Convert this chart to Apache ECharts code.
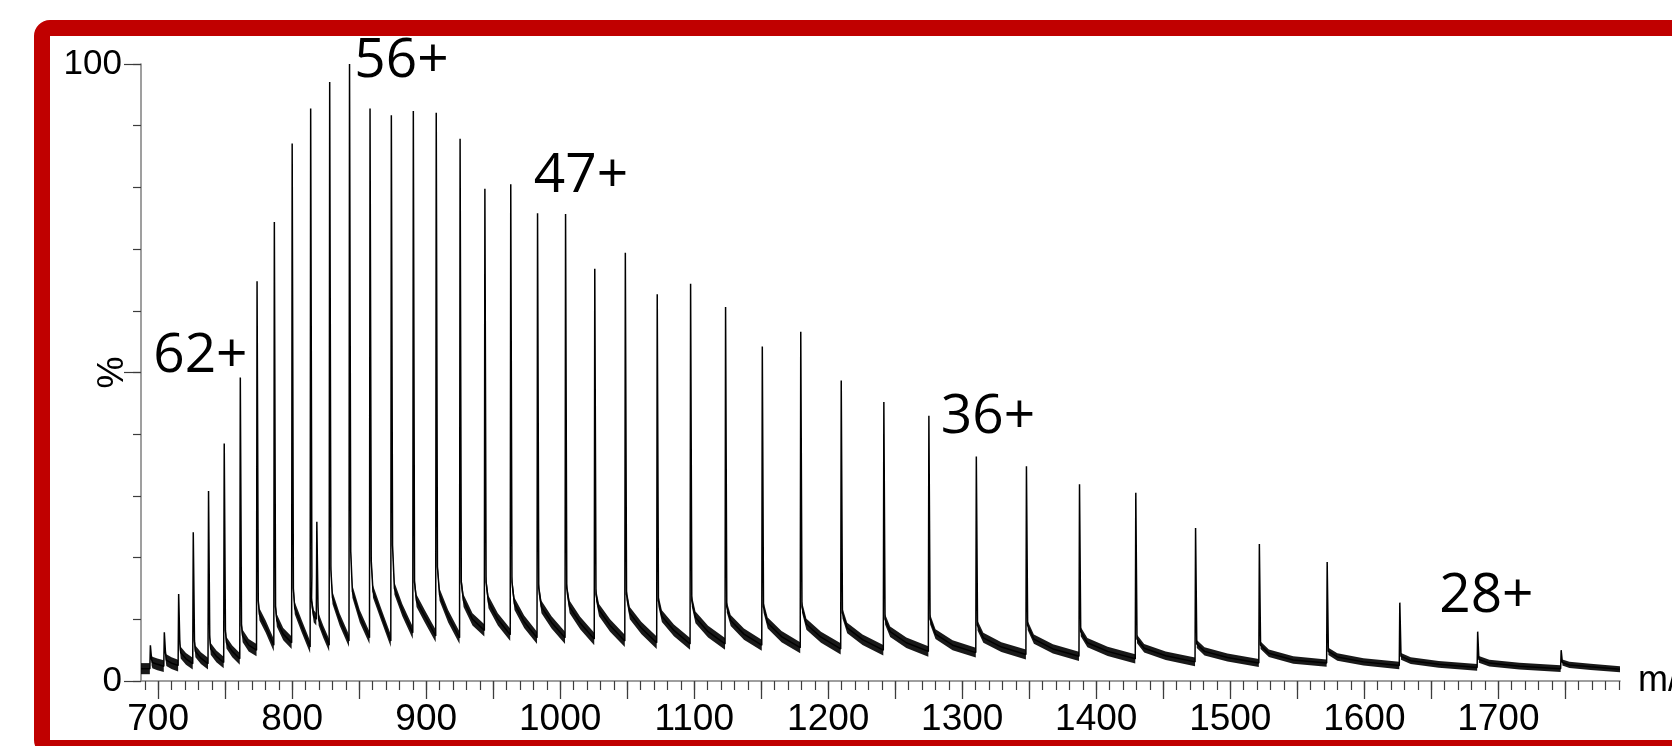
<!DOCTYPE html>
<html>
<head>
<meta charset="utf-8">
<title>ESI mass spectrum</title>
<script src="https://cdn.jsdelivr.net/npm/echarts@6/dist/echarts.min.js"></script>
<style>
  html, body { margin: 0; padding: 0; background: #ffffff; overflow: hidden; }
  #chart { width: 1672px; height: 746px; }
</style>
</head>
<body>
<div id="chart"></div>
<script>
// ---- spectrum data (m/z, relative intensity %) ----
// charge-state envelope, 68+ down to 27+, plus one minor species near m/z 818
const peakMz = [
  694.2, 704.6, 715.3, 726.2, 737.6, 749.3, 761.3, 773.8, 786.7, 800.0,
  813.8, 818.4, 828.0, 842.8, 858.1, 874.0, 890.4, 907.5, 925.3, 943.8,
  963.1, 983.1, 1004.0, 1025.8, 1048.6, 1072.4, 1097.3, 1123.4, 1150.8, 1179.5,
  1209.7, 1241.5, 1275.1, 1310.5, 1347.9, 1387.5, 1429.5, 1474.1, 1521.7, 1572.3,
  1626.5, 1684.6, 1746.9
];
// apex height of each peak
const peakPct = [
  5.8, 7.9, 14.1, 24.1, 30.8, 38.5, 49.2, 64.8, 74.4, 87.1,
  92.8, 25.8, 97.1, 100.0, 92.8, 91.7, 92.4, 92.1, 87.9, 79.8,
  80.5, 75.8, 75.7, 66.8, 69.4, 62.7, 64.4, 60.6, 54.2, 56.6,
  48.7, 45.2, 43.0, 36.4, 34.8, 31.9, 30.5, 24.8, 22.2, 19.3,
  12.7, 8.0, 5.0
];
// level right after the steep drop on the high-m/z side of each peak
const shoulderPct = [
  3.5, 4.5, 6.0, 6.5, 7.0, 8.2, 9.0, 13.0, 12.0, 15.0,
  17.0, 12.0, 18.0, 21.0, 19.5, 22.0, 16.0, 18.5, 16.0, 16.0,
  16.0, 15.0, 15.0, 14.0, 14.0, 13.0, 13.0, 12.0, 12.0, 12.0,
  11.0, 10.0, 10.0, 9.0, 9.0, 8.0, 6.8, 6.0, 5.8, 4.8,
  4.0, 3.5, 3.0
];
// early tail, shortly after the shoulder
const tailNearPct = [
  3.0, 3.4, 4.6, 4.8, 5.2, 6.2, 7.3, 10.8, 9.8, 11.8,
  13.0, 10.0, 13.5, 14.5, 14.5, 15.0, 13.0, 14.0, 13.0, 12.8,
  12.5, 12.0, 12.0, 11.5, 11.0, 10.5, 10.3, 9.8, 9.4, 9.2,
  8.6, 8.0, 7.6, 7.0, 6.8, 6.2, 5.3, 4.8, 4.5, 3.9,
  3.3, 2.9, 2.6
];
// late tail, about halfway to the next peak
const tailFarPct = [
  2.7, 2.9, 3.6, 3.7, 4.0, 4.8, 5.8, 8.8, 7.6, 9.0,
  10.5, 8.0, 10.0, 10.5, 11.0, 11.5, 10.5, 10.5, 10.0, 10.0,
  9.6, 9.5, 9.4, 9.0, 8.6, 8.2, 8.0, 7.6, 7.2, 7.1,
  6.7, 6.2, 5.8, 5.5, 5.2, 4.8, 4.1, 3.8, 3.4, 3.1,
  2.7, 2.4, 2.3
];
// baseline just before the next peak (last entry: level at the end of the scan)
const valleyPct = [
  2.4, 2.5, 2.8, 2.8, 3.0, 3.6, 5.0, 5.8, 6.2, 5.5,
  10.0, 5.8, 6.5, 7.0, 6.5, 7.8, 7.3, 7.0, 8.2, 7.5,
  7.0, 7.0, 6.8, 6.5, 6.2, 6.0, 6.0, 5.8, 5.4, 5.2,
  5.0, 4.8, 4.6, 4.3, 4.0, 3.6, 3.1, 2.9, 2.9, 2.5,
  2.2, 2.0, 1.9
];
// half-width of the noise band on each tail
const noisePct = [
  0.95, 0.95, 0.95, 0.95, 0.95, 0.95, 1.0, 1.0, 1.0, 1.0,
  1.0, 1.0, 1.0, 1.0, 1.0, 1.0, 1.0, 1.0, 1.0, 1.0,
  1.0, 1.0, 1.0, 1.0, 1.0, 0.95, 0.95, 0.9, 0.9, 0.9,
  0.85, 0.85, 0.8, 0.8, 0.75, 0.75, 0.7, 0.65, 0.6, 0.6,
  0.55, 0.55, 0.5
];
const startPct = 2.0;          // baseline at the low-m/z end of the scan
const startNoisePct = 0.9;

// charge-state annotations
const annText = ['62+', '56+', '47+', '36+', '28+'];
const annMz   = [731.5, 881.6, 1015.5, 1319.2, 1691.1];
const annPct  = [52.7, 100.4, 81.8, 42.7, 13.8];

// axis ticks
const xLabelValues = [700, 800, 900, 1000, 1100, 1200, 1300, 1400, 1500, 1600, 1700];
const xMajorTicks = [700, 750, 800, 850, 900, 950, 1000, 1050, 1100, 1150, 1200, 1250,
                     1300, 1350, 1400, 1450, 1500, 1550, 1600, 1650, 1700, 1750];
const yMajorTicks = [0, 50, 100];
const X_MIN = 687.2, X_MAX = 1790.8;

const xMinorTicks = [];
for (let v = 690; v <= 1790; v += 10) xMinorTicks.push(v);

// ---- build the trace ----
const n = peakMz.length;
function nextMz(i) { return i + 1 < n ? peakMz[i + 1] : X_MAX; }
function tailPoints(i) {
  const x0 = peakMz[i], x1 = nextMz(i), gap = x1 - x0;
  return [
    [x0 + 0.9, shoulderPct[i]],
    [x0 + gap * 0.14, tailNearPct[i]],
    [x0 + gap * 0.5, tailFarPct[i]],
    [x1 - (i + 1 < n ? 0.4 : 0), valleyPct[i]]
  ];
}
const trace = [[X_MIN, startPct], [peakMz[0] - 0.4, startPct]];
for (let i = 0; i < n; i++) {
  trace.push([peakMz[i], peakPct[i]]);
  tailPoints(i).forEach(p => trace.push(p));
}

const segData = [[X_MIN, -1]];
for (let i = 0; i < n; i++) segData.push([peakMz[i], i]);

const chart = echarts.init(document.getElementById('chart'), null, { renderer: 'canvas' });

const axisGray = '#7f7f7f';
const tickGray = '#3c3c3c';
const labelFont = 'Liberation Sans, Arial, sans-serif';

chart.setOption({
  animation: false,
  backgroundColor: '#ffffff',
  grid: { left: 141, right: 52, top: 64, bottom: 65, containLabel: false, outerBoundsMode: 'none' },
  xAxis: [
    {
      type: 'value', min: X_MIN, max: X_MAX,
      axisLine: { show: true, onZero: false, lineStyle: { color: axisGray, width: 1.5 } },
      axisTick: { show: true, customValues: xMajorTicks, length: 18, lineStyle: { color: tickGray, width: 1.3 } },
      axisLabel: { show: true, customValues: xLabelValues, margin: 20, fontSize: 37,
                   fontFamily: labelFont, color: '#000', formatter: v => String(v) },
      splitLine: { show: false },
      name: 'm/z', nameLocation: 'end', nameGap: 18, nameMoveOverlap: false,
      nameTextStyle: { fontSize: 36, fontFamily: labelFont, color: '#000', align: 'left', verticalAlign: 'middle' }
    },
    {
      type: 'value', min: X_MIN, max: X_MAX, position: 'bottom',
      axisLine: { show: false },
      axisTick: { show: true, customValues: xMinorTicks, length: 9, lineStyle: { color: tickGray, width: 1.2 } },
      axisLabel: { show: false },
      splitLine: { show: false }
    }
  ],
  yAxis: [
    {
      type: 'value', min: 0, max: 100, interval: 10,
      axisLine: { show: true, onZero: false, lineStyle: { color: axisGray, width: 1.5 } },
      axisTick: { show: true, length: 8, lineStyle: { color: tickGray, width: 1.2 } },
      axisLabel: { show: true, margin: 19, fontSize: 35, fontFamily: labelFont, color: '#000',
                   formatter: v => (v === 0 || v === 100) ? String(v) : '' },
      splitLine: { show: false },
      name: '%', nameLocation: 'middle', nameRotate: 90, nameGap: 10, nameMoveOverlap: false,
      nameTextStyle: { fontSize: 36, fontFamily: labelFont, color: '#000' }
    },
    {
      type: 'value', min: 0, max: 100, position: 'left',
      axisLine: { show: false },
      axisTick: { show: true, customValues: yMajorTicks, length: 17, lineStyle: { color: tickGray, width: 1.2 } },
      axisLabel: { show: false },
      splitLine: { show: false }
    }
  ],
  series: [
    {
      // noisy tails drawn as a band around the trace
      type: 'custom',
      coordinateSystem: 'cartesian2d',
      xAxisIndex: 0, yAxisIndex: 0,
      encode: { x: 0, y: 1 },
      clip: true,
      silent: true,
      data: segData,
      renderItem: function (params, api) {
        const i = api.value(1);
        let pts, half;
        if (i < 0) {
          pts = [[X_MIN, startPct], [peakMz[0] - 0.4, startPct]];
          half = startNoisePct;
        } else {
          pts = tailPoints(i);
          half = noisePct[i];
        }
        const upper = pts.map(p => api.coord([p[0], p[1] + half]));
        const lower = pts.slice().reverse().map(p => api.coord([p[0], Math.max(0.2, p[1] - half)]));
        return {
          type: 'polygon',
          shape: { points: upper.concat(lower) },
          style: { fill: '#000000', opacity: 0.9 }
        };
      },
      z: 2
    },
    {
      type: 'line',
      xAxisIndex: 0, yAxisIndex: 0,
      data: trace,
      showSymbol: false,
      symbol: 'none',
      lineStyle: { color: '#000000', width: 1.5 },
      clip: true,
      z: 3
    },
    {
      type: 'scatter',
      xAxisIndex: 0, yAxisIndex: 0,
      clip: false,
      symbolSize: 0,
      data: annText.map((t, i) => ({ name: t, value: [annMz[i], annPct[i]] })),
      label: {
        show: true, position: 'inside', formatter: '{b}',
        fontSize: 55, fontFamily: 'Open Sans, Noto Sans, sans-serif', color: '#000000',
        textBorderWidth: 0, opacity: 1
      },
      z: 4
    }
  ],
  graphic: [
    {
      // red frame, open on the right
      type: 'rect',
      shape: { x: 42, y: 28, width: 1800, height: 720, r: 8 },
      style: { fill: 'none', stroke: '#c00000', lineWidth: 16 },
      silent: true,
      z: 10
    }
  ]
});
</script>
</body>
</html>
